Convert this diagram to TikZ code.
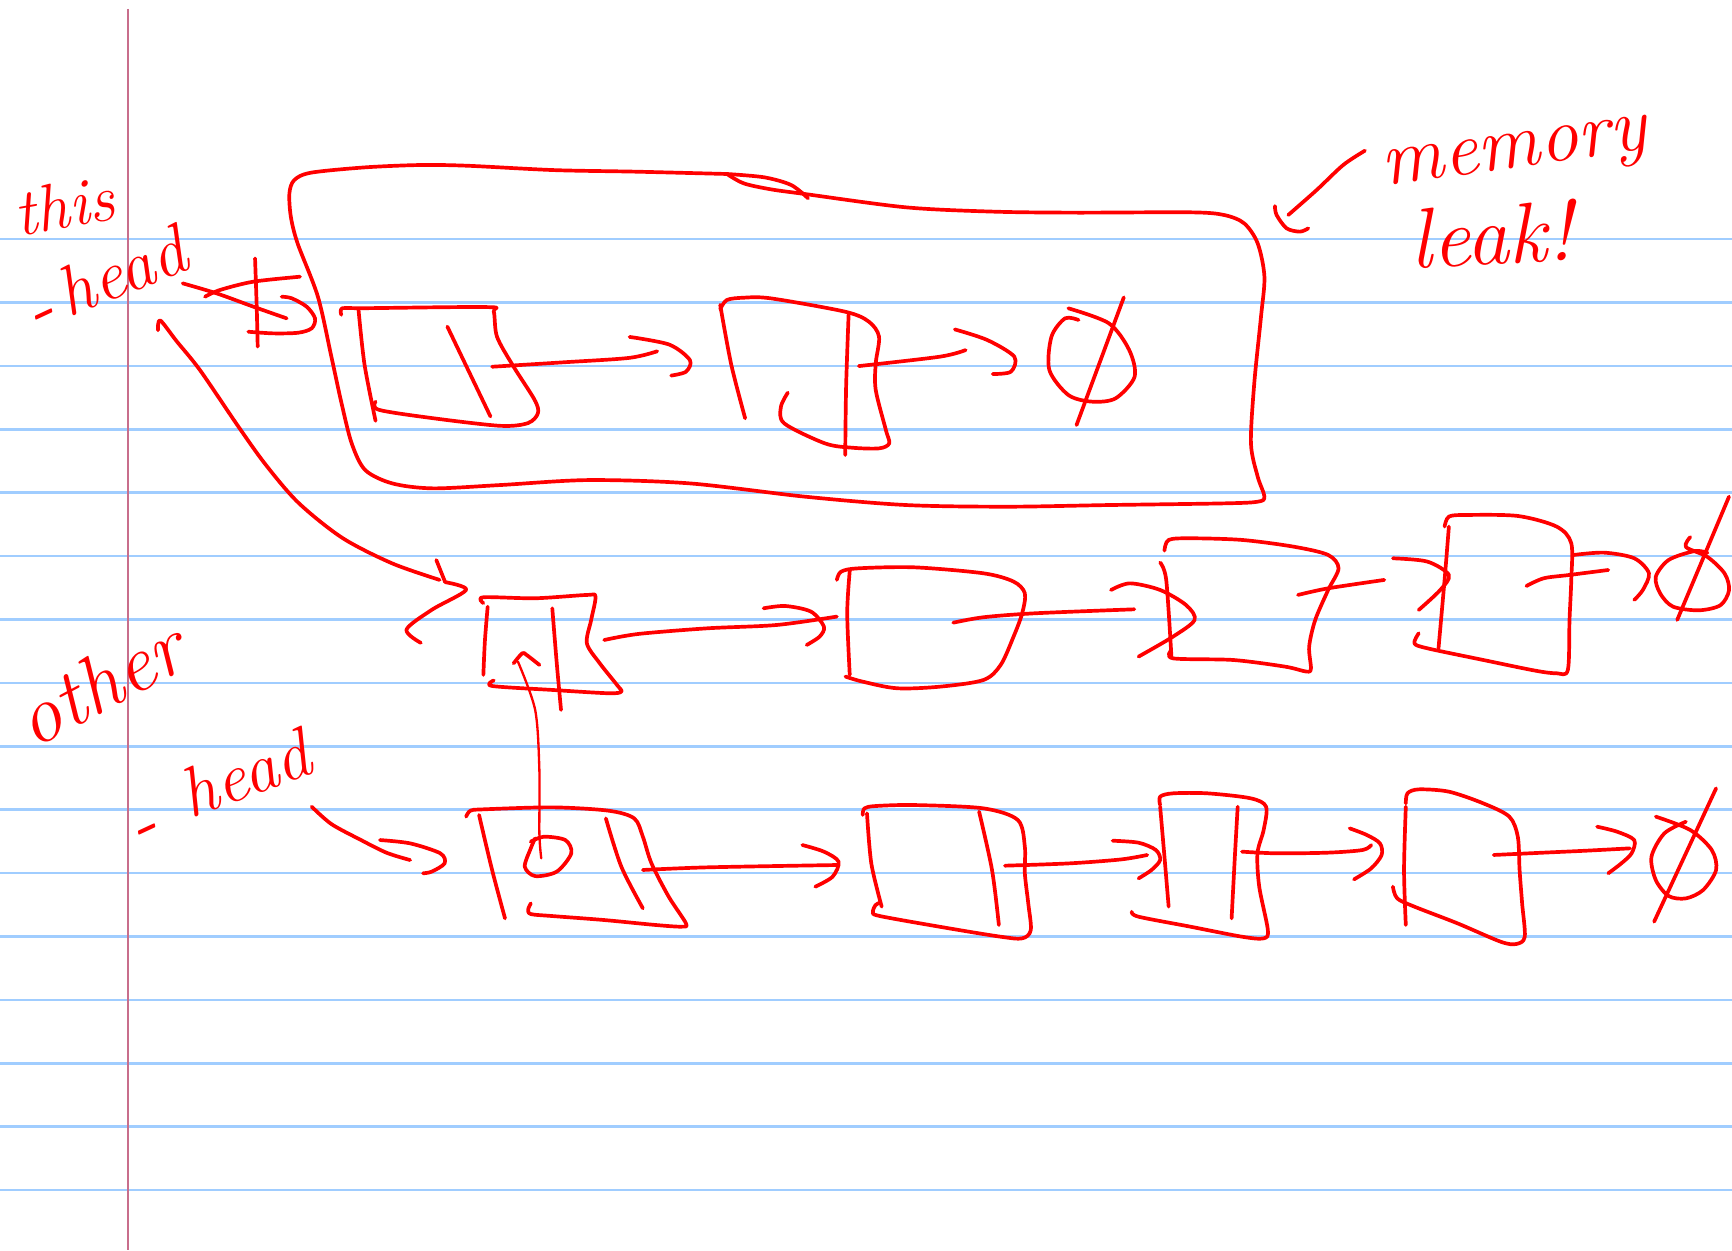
\documentclass[tikz,border=0pt]{standalone}
\begin{document}
\begin{tikzpicture}[x=0.01cm,y=-0.01cm,
  ink/.style={draw={rgb,255:red,255;green,0;blue,0}, line width=0.95pt, line cap=round, line join=round},
  paper/.style={draw={rgb,255:red,160;green,205;blue,255}, line width=0.65pt},
  marginline/.style={draw={rgb,255:red,200;green,110;blue,140}, line width=0.5pt},
  hand/.style={text={rgb,255:red,255;green,0;blue,0}, inner sep=0pt}]
\useasboundingbox (0,0) rectangle (1568,1132);
\fill[white] (0,0) rectangle (1568,1132);
% ruled paper
\foreach \k in {0,...,15} \draw[paper] (0,{216.4+57.4*\k}) -- (1568,{216.4+57.4*\k});
\draw[marginline] (115.9,8) -- (115.9,1132);

% ---------- labels ----------
\node[hand, rotate=10, font=\fontsize{17}{20}\selectfont\itshape] (thislbl) at (58,186) {this};
\node[hand, rotate=25, font=\fontsize{20}{24}\selectfont\itshape] (thisdash) at (41,292) {-};
\node[hand, rotate=22, font=\fontsize{18}{22}\selectfont\itshape] (thishead) at (110,245) {head};
\node[hand, rotate=28, font=\fontsize{21}{25}\selectfont\itshape] (otherlbl) at (90,618) {other};
\node[hand, rotate=25, font=\fontsize{20}{24}\selectfont\itshape] (otherdash) at (134,758) {-};
\node[hand, rotate=20, font=\fontsize{18}{22}\selectfont\itshape] (otherhead) at (222,700) {head};
\node[hand, rotate=8, font=\fontsize{20}{24}\selectfont\itshape] (memlbl) at (1372,143) {memory};
\node[hand, rotate=3, font=\fontsize{22}{26}\selectfont\itshape] (leaklbl) at (1350,212) {leak!};

% ---------- memory leak arrow ----------
\draw[ink] plot[smooth] coordinates {(1235.7,136.4) (1216.1,149.3) (1192,172) (1166.3,194.6)};
\draw[ink] plot[smooth] coordinates {(1154.2,186.5) (1155.7,194.6) (1164.8,206.7) (1176.9,209.7) (1184.4,206.7)};

% ---------- enclosure ----------
\draw[ink] plot[smooth, tension=0.5] coordinates {(658,157.5) (575.5,155.4) (502,154) (422.4,150) (379.6,149.4) (330.6,151.5) (281.7,156.3) (266.4,163) (262,175) (263.3,196.2) (269.4,220.3) (287.8,268.6) (300,322.9) (309.2,365.1) (318.4,401.4) (330.6,425.5) (355.1,437.6) (391.8,442.1) (453,439.1) (532.6,434.6) (624.4,437.6) (728.5,449.6) (820.3,457.2) (912.1,458.7) (1003.9,457.2) (1108,455.7) (1138.6,454.2) (1144.7,449.6) (1138.6,431.5) (1132.5,401.4) (1135.5,347) (1141.6,286.7) (1144.7,250.5) (1138.6,220.3) (1126.4,202.2) (1108,194.6) (1077.4,192.2) (973.4,192.5) (899.9,191.6) (820.3,187.7) (728.5,175.6) (697.9,171.4) (673.4,166) (658.1,157.5)};
\draw[ink] plot[smooth] coordinates {(658.1,157.5) (691.8,160.5) (716.3,167.5) (731.6,179.6)};

% ---------- this->head crossed pointer ----------
\draw[ink] plot[smooth] coordinates {(165.4,256.5) (196.2,265.6) (229.3,277.6) (259.5,288.2)};
\draw[ink] plot[smooth] coordinates {(185.6,268.6) (199.2,262.5) (229.3,255) (271.6,250.5)};
\draw[ink] plot[smooth] coordinates {(230.9,233.9) (232.4,277.6) (233.3,313.8)};
\draw[ink] plot[smooth] coordinates {(255,268.6) (264,270) (277.6,277.6) (285.2,288.2) (282.2,297.2) (270,301.2) (247.5,301.8) (224.8,300.3)};

% ---------- big curved arrow to other list ----------
\draw[ink] plot[smooth] coordinates {(143,299) (145,290) (160,309) (181,335) (215,385) (240,420) (270,455) (310,487) (355,510) (398,525)};
\draw[ink] plot[smooth] coordinates {(395,507) (403,527)};
\draw[ink] plot[smooth] coordinates {(403,527) (422,534) (391,552) (368,570) (381,582)};

% ---------- top row (inside enclosure) ----------
% node 1
\draw[ink] plot[smooth] coordinates {(309,285) (310,279) (330,279) (441,278) (447,282) (450,305) (465,332) (484,362) (487,374) (478,383) (453,385.5) (392,378.6) (343,371) (340,363.6)};
\draw[ink] plot[smooth] coordinates {(324.6,280.7) (330,330) (340,381)};
\draw[ink] plot[smooth] coordinates {(405,295.7) (444,377)};
\draw[ink] plot[smooth] coordinates {(445.5,332) (510,328) (569.5,324) (595,318)};
\draw[ink] plot[smooth] coordinates {(570,305) (606,312) (624.6,326) (621,336.5) (607.6,340)};
% node 2
\draw[ink] plot[smooth] coordinates {(652,280) (658,271.6) (673.4,269.5) (697.9,270.1) (765.2,282.2) (786.6,291.2) (795.8,304.8) (792.8,329) (792.8,353) (802,389.3) (805,401.4) (795.8,405.9) (771.3,405.3) (746.9,401.4) (710,383.3) (707,368.2) (713.2,355.5)};
\draw[ink] plot[smooth] coordinates {(652,276) (662,330) (674.6,378.7)};
\draw[ink] plot[smooth] coordinates {(768.3,283.7) (766,350) (765.2,411.9)};
\draw[ink] plot[smooth] coordinates {(777.5,331.4) (850.9,322.9) (874.2,316.9)};
\draw[ink] plot[smooth] coordinates {(864.4,298.2) (893.8,307.8) (918.3,322.9) (915.2,336.5) (898.7,338.6)};
% null
\draw[ink] plot[smooth] coordinates {(967.2,279.1) (1003.9,292.7) (1022.3,316.9) (1027.2,341) (1010,360.6) (988.6,363.6) (967.2,357.6) (950,335) (951.9,304.8) (964.2,288.2) (976.4,289.7)};
\draw[ink] (1017.4,269.2) -- (974.6,384.8);

% ---------- other list (middle row) ----------
% node A
\draw[ink] plot[smooth] coordinates {(437.6,546) (437.6,540.7) (484.5,541.6) (531.3,538.6) (539.1,540.1) (535.2,561.2) (531.3,582.4) (543,600.5) (558.6,620.1) (562.5,626.1) (550.8,627.6) (500,624.6) (445.5,621) (447,616)};
\draw[ink] plot[smooth] coordinates {(441.5,549.2) (439,580) (437.6,611)};
\draw[ink] plot[smooth] coordinates {(500,550.7) (504,600) (507.9,642.7)};
\draw[ink] plot[smooth] coordinates {(547,579.4) (578,573.9) (640.5,568.8) (703,565.8) (757.6,558.2)};
\draw[ink] plot[smooth] coordinates {(691.3,550.7) (710.8,548.6) (734.2,553.7) (745.9,567.3) (742,576.3) (730.3,583.9)};
% node B
\draw[ink] plot[smooth] coordinates {(757.6,525) (761.5,517.5) (777.1,514.5) (827.8,513.6) (890.3,519) (917.6,526.5) (927.8,537.1) (925.4,555.2) (917.6,576.3) (905.9,602) (890.3,615.6) (851.3,621.6) (812.2,623.1) (781,617.1) (765.4,612.5)};
\draw[ink] plot[smooth] coordinates {(769.3,516.6) (767,555.2) (769.3,611)};
\draw[ink] plot[smooth] coordinates {(863,563.7) (890.3,558.8) (937.1,555.2) (1026.9,551.6)};
\draw[ink] plot[smooth] coordinates {(1005.8,534.1) (1022.9,528.1) (1050.3,534.1) (1073.7,547.7) (1081.5,561.2) (1062,576.3) (1030.8,594.4)};
% node C
\draw[ink] plot[smooth] coordinates {(1054.2,498.5) (1058,488.8) (1077.6,487.3) (1124.4,488.8) (1171.2,494.9) (1202.4,502.4) (1211.8,514.5) (1202.4,534.1) (1190.7,561.2) (1185.2,585.4) (1186.8,605) (1182.9,608) (1163.4,603.5) (1116.6,597.5) (1062,596) (1060.5,588.4)};
\draw[ink] plot[smooth] coordinates {(1050.3,509.3) (1055.8,525) (1060.5,594.4)};
\draw[ink] plot[smooth] coordinates {(1175.1,538.6) (1202.4,532.6) (1253.2,525)};
\draw[ink] plot[smooth] coordinates {(1261,505.4) (1292.2,508.4) (1311.7,520.5) (1303.9,534.1) (1284.4,552.2)};
% node D
\draw[ink] plot[smooth] coordinates {(1307.8,476.7) (1311.7,467.7) (1327.3,466.2) (1374.1,467.1) (1409.2,476.7) (1422.5,491.8) (1422.5,525) (1420.9,561.2) (1419.4,606.5) (1409.2,609.5) (1389.7,607.1) (1342.9,597.5) (1292.2,586.9) (1280.5,582.4) (1284.4,573.3)};
\draw[ink] plot[smooth] coordinates {(1311.7,476.7) (1307.8,525) (1302.3,586.9)};
\draw[ink] plot[smooth] coordinates {(1381.9,530.5) (1397.6,523.5) (1420.9,520.5) (1456,516)};
\draw[ink] plot[smooth] coordinates {(1424.8,502.4) (1452.2,500.3) (1479.5,505.4) (1492.8,519) (1487.3,534.1) (1479.5,543.1)};
% null
\draw[ink] plot[smooth] coordinates {(1530.2,486.2) (1526.3,495.2) (1545.8,504.2) (1561.4,519.3) (1565.3,534.4) (1557.5,547.9) (1538,552.5) (1514.6,549.2) (1502.9,537.1) (1499,522.1) (1510.7,506.9) (1534.1,498.9) (1545.8,500.4)};
\draw[ink] (1565.3,449.6) -- (1518.4,561.2);

% ---------- other->head arrow ----------
\draw[ink] plot[smooth] coordinates {(282.2,730.3) (300,746) (325.9,760) (350,772) (371.3,778.6)};
\draw[ink] plot[smooth] coordinates {(344,760.5) (371.3,763.5) (398.6,772.5) (402.5,781.6) (390.8,789.1) (383,790.6)};

% ---------- bottom row ----------
% node B1 with pointer up to node A
\draw[ink] plot[smooth] coordinates {(422,739.3) (425.9,733.9) (437.6,732.7) (500.1,730.9) (550.8,733.9) (574.2,740.9) (582,757.5) (589.8,781.6) (605.4,811.8) (621,835.9) (617.1,838.9) (593.7,837.4) (546.9,832.9) (500.1,829.3) (480.6,827.5) (478.2,823.2) (480.6,817.8)};
\draw[ink] plot[smooth] coordinates {(433.7,737.8) (445.5,787.6) (457.2,831.4)};
\draw[ink] plot[smooth] coordinates {(548.5,740.9) (562.5,784.6) (582,822.3)};
\draw[ink] plot[smooth] coordinates {(484.4,759) (480.5,768) (475.1,784.6) (484.4,793.1) (504,789.1) (517.2,772.5) (511.8,760.5) (492.2,757.5) (480.5,762)};
\draw[ink, line width=0.6pt] plot[smooth] coordinates {(490,777) (488.3,754.4) (488.3,697.1) (484.5,642.7) (468.9,599)};
\draw[ink] plot[smooth] coordinates {(465,600.5) (472.8,591.4) (476.7,592.9) (488.4,602)};
\draw[ink] plot[smooth] coordinates {(582,787.6) (640.5,785.2) (757.6,783.1)};
\draw[ink] plot[smooth] coordinates {(726.4,765) (745.9,771) (759.2,780.1) (753.7,793.7) (738.1,802.7)};
% node B2
\draw[ink] plot[smooth] coordinates {(781,737.8) (782.6,731.8) (792.7,729.7) (827.8,728.8) (890.3,731.8) (921.5,742.4) (927.8,766.5) (927.8,790.6) (930.9,817.8) (933.2,841.9) (925.4,849.5) (905.9,848) (859,840.4) (796.6,829.3) (790.4,825.4) (792.7,819.3) (796.6,817.2)};
\draw[ink] plot[smooth] coordinates {(784.9,736.3) (788.8,781.6) (798.2,820.8)};
\draw[ink] plot[smooth] coordinates {(886.4,734.8) (898.1,787.6) (904.3,837.4)};
\draw[ink] plot[smooth] coordinates {(909.8,783.7) (968.3,781.6) (1015.2,778) (1038.6,774)};
\draw[ink] plot[smooth] coordinates {(1007.3,761.1) (1030.8,762.9) (1046.4,769.5) (1050.3,778.6) (1042.5,787.6) (1030.8,795.2)};
% node B3
\draw[ink] plot[smooth] coordinates {(1050.3,728.8) (1050.3,721.2) (1062,718.2) (1093.2,718.2) (1132.2,722.7) (1146.2,730.3) (1144,751.4) (1138.4,772.5) (1140,802.7) (1147.8,841.9) (1143.9,849.5) (1124.4,848) (1077.6,838.9) (1030.8,829.9) (1024.5,825.4)};
\draw[ink] plot[smooth] coordinates {(1050.3,730.3) (1054.2,775.6) (1058,820.8)};
\draw[ink] plot[smooth] coordinates {(1120.5,730.3) (1118.1,772.5) (1115,831.4)};
\draw[ink] plot[smooth] coordinates {(1124.4,771) (1155.6,772.5) (1202.4,771.9) (1233.6,769.5) (1241.4,765)};
\draw[ink] plot[smooth] coordinates {(1221.9,749.9) (1237.6,756) (1249.3,763.5) (1250.8,774) (1241.4,786.1) (1225.8,796.1)};
% node B4
\draw[ink] plot[smooth] coordinates {(1272.7,727.3) (1274.2,718.2) (1284.4,714.6) (1311.7,716.7) (1342.9,727.3) (1366.4,739.3) (1374.1,757.5) (1375.7,787.6) (1378,817.8) (1380.4,848) (1372.6,854.6) (1358.5,852.5) (1319.5,835.9) (1280.5,820.8) (1264.9,813.3) (1261,802.7)};
\draw[ink] plot[smooth] coordinates {(1272.7,730.3) (1271.1,787.6) (1272.7,837.4)};
\draw[ink] plot[smooth] coordinates {(1352.3,774) (1397.5,771.9) (1436.6,770.1) (1475.6,768)};
\draw[ink] plot[smooth] coordinates {(1445.9,748.4) (1463.9,752.9) (1479.5,760.5) (1477.1,772.5) (1467.8,781.6) (1456,790.6)};
% null
\draw[ink] plot[smooth] coordinates {(1499,739.3) (1530.2,751.4) (1549.7,769.5) (1553.6,787.6) (1541.9,805.7) (1526.3,813.3) (1510.7,811.2) (1499,796.7) (1495.1,775.6) (1506.8,754.4) (1526.3,743.9)};
\draw[ink] (1553.6,713.7) -- (1497.5,834.4);
\end{tikzpicture}
\end{document}
